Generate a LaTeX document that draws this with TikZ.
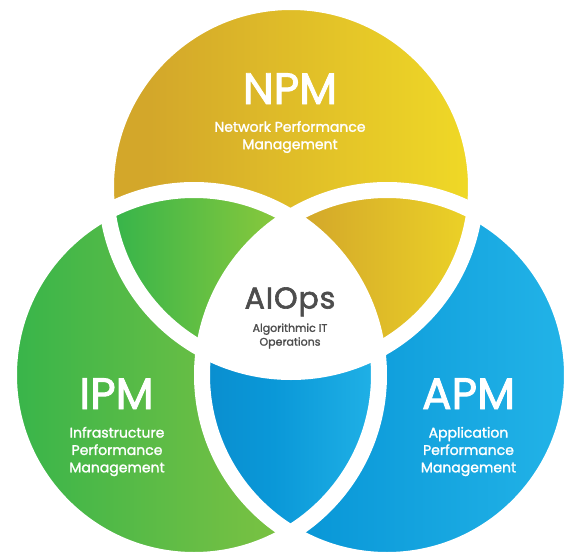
\documentclass[tikz,border=0pt]{standalone}
\usepackage{fontspec}
\setmainfont{Poppins}
\newfontfamily\pmed{Poppins}[FakeBold=2]
\newfontfamily\paiops{Poppins}[FakeBold=2, LetterSpace=3]
\newfontfamily\psemi{Poppins}[FakeBold=1.6]
\definecolor{yL}{HTML}{D3A72A}
\definecolor{yR}{HTML}{F9E925}
\definecolor{gL}{HTML}{39B54A}
\definecolor{gM}{HTML}{6FBF44}
\definecolor{gR}{HTML}{B5D334}
\definecolor{bL}{HTML}{0A82C4}
\definecolor{bM}{HTML}{0A98D8}
\definecolor{bR}{HTML}{33C6F2}
\definecolor{aiops}{HTML}{4D4D4D}
\pgfdeclarehorizontalshading{glens}{100bp}{color(0bp)=(gL); color(28bp)=(gL); color(100bp)=(gR)}
\pgfdeclarehorizontalshading{ylens}{100bp}{color(0bp)=(yL); color(25bp)=(yL); color(100bp)=(yR)}
\pgfdeclarehorizontalshading{blens}{100bp}{color(0bp)=(bL); color(45bp)=(bM); color(100bp)=(bR)}
\pgfdeclarehorizontalshading{gcirc}{100bp}{color(0bp)=(gL); color(25bp)=(gL); color(55bp)=(gM); color(100bp)=(gR)}
\pgfdeclarehorizontalshading{ycirc}{100bp}{color(0bp)=(yL); color(30bp)=(yL); color(90bp)=(yR); color(100bp)=(yR)}
\pgfdeclarehorizontalshading{bcirc}{100bp}{color(0bp)=(bL); color(40bp)=(bM); color(100bp)=(bR)}
\tikzset{
  band/.style={draw=white, line width=16pt},
  title/.style={text=white, inner sep=0pt, anchor=base, font=\pmed\fontsize{44}{44}\selectfont},
  subtitle/.style={text=white, inner sep=0pt, align=center, font=\psemi\fontsize{14}{17.4}\selectfont},
}
\begin{document}
\begin{tikzpicture}[x=1pt,y=-1pt]
\useasboundingbox (0,0) rectangle (566,552);
\coordinate (N) at (291,187);
\coordinate (I) at (194,375);
\coordinate (A) at (387,375);
% whole circles
\begin{scope}
  \clip (N) circle (185pt);
  \shade[shading=ycirc] (114,0) rectangle (469,380);
\end{scope}
\begin{scope}
  \clip (I) circle (185pt);
  \shade[shading=gcirc] (17,180) rectangle (371,560);
\end{scope}
\begin{scope}
  \clip (A) circle (185pt);
  \shade[shading=bcirc] (210,180) rectangle (564,560);
\end{scope}
% lenses
\begin{scope}
  \clip (N) circle (185pt);
  \clip (I) circle (185pt);
  \shade[shading=glens] (108,180) rectangle (280,390);
\end{scope}
\begin{scope}
  \clip (N) circle (185pt);
  \clip (A) circle (185pt);
  \shade[shading=ylens] (302,180) rectangle (474,390);
\end{scope}
\begin{scope}
  \clip (I) circle (185pt);
  \clip (A) circle (185pt);
  \shade[shading=blens] (205,360) rectangle (377,560);
\end{scope}
% centre
\begin{scope}
  \clip (N) circle (185pt);
  \clip (I) circle (185pt);
  \fill[white] (A) circle (185pt);
\end{scope}
% white gaps
\draw[band] (N) circle (185pt);
\draw[band] (I) circle (185pt);
\draw[band] (A) circle (185pt);
% texts
\node[title] (npm) at (290,104) {NPM};
\node[subtitle] (npms) at (290,137) {Network Performance\\Management};
\node[title] (ipm) at (116.5,409) {IPM};
\node[subtitle] (ipms) at (117,451.5) {Infrastructure\\Performance\\Management};
\node[title] (apm) at (468.5,409) {APM};
\node[subtitle] (apms) at (468.5,451.5) {Application\\Performance\\Management};
\node[text=aiops, inner sep=0pt, anchor=base, font=\paiops\fontsize{30}{30}\selectfont] (ai) at (290,308.5) {AIOps};
\node[text=aiops, inner sep=0pt, align=center, font=\psemi\fontsize{11}{13.8}\selectfont] (ais) at (290,336) {Algorithmic IT\\Operations};
\end{tikzpicture}
\end{document}
